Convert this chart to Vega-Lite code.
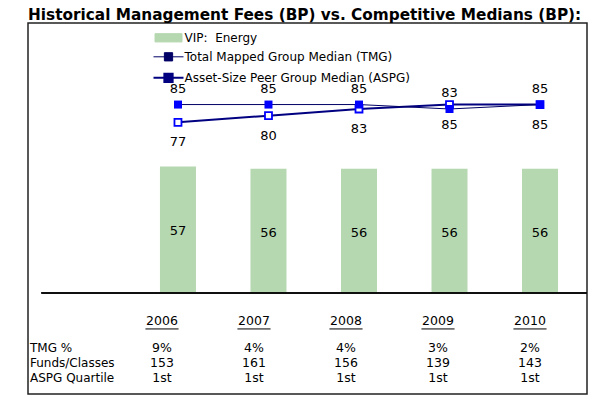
{
  "$schema": "https://vega.github.io/schema/vega-lite/v6.json",
  "width": 559,
  "height": 371,
  "autosize": "none",
  "padding": {"left": 28, "top": 23, "right": 19, "bottom": 13},
  "background": "white",
  "title": {
    "text": "Historical Management Fees (BP) vs. Competitive Medians (BP):",
    "anchor": "start",
    "font": "DejaVu Sans",
    "fontSize": 15.3,
    "fontWeight": "bold",
    "color": "black",
    "offset": 0
  },
  "config": {
    "view": {"stroke": "#222222", "strokeWidth": 1.5},
    "font": "DejaVu Sans",
    "text": {"font": "DejaVu Sans", "fontSize": 12, "color": "black"},
    "legend": {
      "orient": "none",
      "legendX": 134.5,
      "legendY": 8.8,
      "title": null,
      "padding": 0,
      "symbolSize": 225,
      "rowPadding": 5,
      "labelOffset": 10,
      "labelFont": "DejaVu Sans",
      "labelFontSize": 12,
      "labelColor": "black",
      "labelLimit": 400
    }
  },
  "datasets": {
    "fees": [
      {"year": "2006", "key": "VIP", "series": "VIP:\u00a0 Energy", "value": 57},
      {"year": "2007", "key": "VIP", "series": "VIP:\u00a0 Energy", "value": 56},
      {"year": "2008", "key": "VIP", "series": "VIP:\u00a0 Energy", "value": 56},
      {"year": "2009", "key": "VIP", "series": "VIP:\u00a0 Energy", "value": 56},
      {"year": "2010", "key": "VIP", "series": "VIP:\u00a0 Energy", "value": 56},
      {"year": "2006", "key": "TMG", "series": "Total Mapped Group Median (TMG)", "value": 85},
      {"year": "2007", "key": "TMG", "series": "Total Mapped Group Median (TMG)", "value": 85},
      {"year": "2008", "key": "TMG", "series": "Total Mapped Group Median (TMG)", "value": 85},
      {"year": "2009", "key": "TMG", "series": "Total Mapped Group Median (TMG)", "value": 83},
      {"year": "2010", "key": "TMG", "series": "Total Mapped Group Median (TMG)", "value": 85},
      {"year": "2006", "key": "ASPG", "series": "Asset-Size Peer Group Median (ASPG)", "value": 77},
      {"year": "2007", "key": "ASPG", "series": "Asset-Size Peer Group Median (ASPG)", "value": 80},
      {"year": "2008", "key": "ASPG", "series": "Asset-Size Peer Group Median (ASPG)", "value": 83},
      {"year": "2009", "key": "ASPG", "series": "Asset-Size Peer Group Median (ASPG)", "value": 85},
      {"year": "2010", "key": "ASPG", "series": "Asset-Size Peer Group Median (ASPG)", "value": 85}
    ],
    "table": [
      {"year": "2006", "row": "year", "text": "2006"},
      {"year": "2007", "row": "year", "text": "2007"},
      {"year": "2008", "row": "year", "text": "2008"},
      {"year": "2009", "row": "year", "text": "2009"},
      {"year": "2010", "row": "year", "text": "2010"},
      {"year": "2006", "row": "TMG %", "text": "9%"},
      {"year": "2007", "row": "TMG %", "text": "4%"},
      {"year": "2008", "row": "TMG %", "text": "4%"},
      {"year": "2009", "row": "TMG %", "text": "3%"},
      {"year": "2010", "row": "TMG %", "text": "2%"},
      {"year": "2006", "row": "Funds/Classes", "text": "153"},
      {"year": "2007", "row": "Funds/Classes", "text": "161"},
      {"year": "2008", "row": "Funds/Classes", "text": "156"},
      {"year": "2009", "row": "Funds/Classes", "text": "139"},
      {"year": "2010", "row": "Funds/Classes", "text": "143"},
      {"year": "2006", "row": "ASPG Quartile", "text": "1st"},
      {"year": "2007", "row": "ASPG Quartile", "text": "1st"},
      {"year": "2008", "row": "ASPG Quartile", "text": "1st"},
      {"year": "2009", "row": "ASPG Quartile", "text": "1st"},
      {"year": "2010", "row": "ASPG Quartile", "text": "1st"}
    ],
    "rowlabels": [
      {"row": "TMG %"},
      {"row": "Funds/Classes"},
      {"row": "ASPG Quartile"}
    ]
  },
  "resolve": {"scale": {"x": "independent", "y": "independent"}},
  "layer": [
    {
      "data": {"name": "fees"},
      "encoding": {
        "x": {
          "field": "year",
          "type": "nominal",
          "axis": null,
          "scale": {
            "type": "band",
            "domain": ["2006", "2007", "2008", "2009", "2010"],
            "paddingInner": 0.602,
            "paddingOuter": 0.889,
            "align": 0.82
          }
        },
        "y": {
          "field": "value",
          "type": "quantitative",
          "axis": null,
          "scale": {"domain": [-45.6, 121.8], "nice": false, "zero": false}
        }
      },
      "layer": [
        {
          "transform": [{"filter": "datum.key == 'VIP'"}],
          "mark": {"type": "bar", "opacity": 1},
          "encoding": {
            "color": {
              "field": "series",
              "type": "nominal",
              "scale": {
                "domain": ["VIP:\u00a0 Energy", "Total Mapped Group Median (TMG)", "Asset-Size Peer Group Median (ASPG)"],
                "range": ["#b6d8b0", "#000066", "#000080"]
              },
              "legend": {
                "encode": {
                  "symbols": {
                    "update": {
                      "shape": {"signal": "datum.index == 0 ? 'M-1.8,-0.55H1.8V0.55H-1.8Z' : 'M-2,0H2M-0.55,-0.55H0.55V0.55H-0.55Z'"},
                      "fill": {"signal": "datum.index == 0 ? '#b6d8b0' : (datum.index == 1 ? '#0000ff' : '#ffffff')"},
                      "stroke": {"signal": "datum.index == 0 ? '#b6d8b0' : '#000080'"},
                      "strokeWidth": {"signal": "datum.index == 2 ? 2 : 1"},
                      "opacity": {"value": 1},
                      "fillOpacity": {"value": 1}
                    }
                  }
                }
              }
            }
          }
        },
        {
          "transform": [{"filter": "datum.key == 'VIP'"}],
          "mark": {"type": "text", "dy": 64, "fontSize": 13},
          "encoding": {"text": {"field": "value", "type": "quantitative"}}
        },
        {
          "mark": {"type": "rule", "color": "#111111", "strokeWidth": 1.2},
          "encoding": {
            "y": {"datum": 0},
            "x": {"datum": "2006", "bandPosition": -3.28},
            "x2": {"value": "width"}
          }
        },
        {
          "transform": [{"filter": "datum.key == 'ASPG'"}],
          "mark": {"type": "line", "strokeWidth": 2},
          "encoding": {"color": {"field": "series", "type": "nominal", "legend": {
                "encode": {
                  "symbols": {
                    "update": {
                      "shape": {"signal": "datum.index == 0 ? 'M-1.8,-0.55H1.8V0.55H-1.8Z' : 'M-2,0H2M-0.55,-0.55H0.55V0.55H-0.55Z'"},
                      "fill": {"signal": "datum.index == 0 ? '#b6d8b0' : (datum.index == 1 ? '#0000ff' : '#ffffff')"},
                      "stroke": {"signal": "datum.index == 0 ? '#b6d8b0' : '#000080'"},
                      "strokeWidth": {"signal": "datum.index == 2 ? 2 : 1"},
                      "opacity": {"value": 1},
                      "fillOpacity": {"value": 1}
                    }
                  }
                }
              }}}
        },
        {
          "transform": [{"filter": "datum.key == 'TMG'"}],
          "mark": {"type": "line", "strokeWidth": 1},
          "encoding": {"color": {"field": "series", "type": "nominal", "legend": {
                "encode": {
                  "symbols": {
                    "update": {
                      "shape": {"signal": "datum.index == 0 ? 'M-1.8,-0.55H1.8V0.55H-1.8Z' : 'M-2,0H2M-0.55,-0.55H0.55V0.55H-0.55Z'"},
                      "fill": {"signal": "datum.index == 0 ? '#b6d8b0' : (datum.index == 1 ? '#0000ff' : '#ffffff')"},
                      "stroke": {"signal": "datum.index == 0 ? '#b6d8b0' : '#000080'"},
                      "strokeWidth": {"signal": "datum.index == 2 ? 2 : 1"},
                      "opacity": {"value": 1},
                      "fillOpacity": {"value": 1}
                    }
                  }
                }
              }}}
        },
        {
          "transform": [{"filter": "datum.key == 'ASPG'"}],
          "mark": {"type": "point", "shape": "square", "filled": false, "size": 49, "stroke": "#0000ff", "fill": "#ffffff", "fillOpacity": 1, "strokeWidth": 1.8, "opacity": 1}
        },
        {
          "transform": [{"filter": "datum.key == 'TMG'"}],
          "mark": {"type": "point", "shape": "square", "filled": true, "size": 64, "color": "#0000ff", "opacity": 1}
        },
        {
          "transform": [{"filter": "datum.key == 'TMG'"}],
          "mark": {"type": "text", "dy": -16, "fontSize": 13},
          "encoding": {"text": {"field": "value", "type": "quantitative"}}
        },
        {
          "transform": [{"filter": "datum.key == 'ASPG'"}],
          "mark": {"type": "text", "dy": 20, "fontSize": 13},
          "encoding": {"text": {"field": "value", "type": "quantitative"}}
        }
      ]
    },
    {
      "encoding": {
        "x": {
          "field": "year",
          "type": "nominal",
          "axis": null,
          "scale": {
            "type": "band",
            "domain": ["label", "2006", "2007", "2008", "2009", "2010"],
            "range": [-4, 548],
            "paddingInner": 0,
            "paddingOuter": 0
          }
        },
        "y": {
          "field": "row",
          "type": "nominal",
          "axis": null,
          "scale": {
            "type": "band",
            "domain": ["year", "gap", "TMG %", "Funds/Classes", "ASPG Quartile"],
            "range": [287.5, 362.5],
            "paddingInner": 0,
            "paddingOuter": 0
          }
        }
      },
      "layer": [
        {
          "data": {"name": "table"},
          "transform": [{"filter": "datum.row == 'year'"}],
          "mark": {"type": "text", "fontSize": 12.5, "baseline": "middle"},
          "encoding": {
            "y": {"field": "row", "type": "nominal", "bandPosition": 0.7},
            "text": {"field": "text", "type": "nominal"}
          }
        },
        {
          "data": {"name": "table"},
          "transform": [{"filter": "datum.row == 'year'"}],
          "mark": {"type": "rule", "color": "black", "strokeWidth": 1},
          "encoding": {
            "x": {"field": "year", "type": "nominal", "bandPosition": 0.32},
            "x2": {"field": "year", "bandPosition": 0.68},
            "y": {"datum": "gap", "bandPosition": 0.23}
          }
        },
        {
          "data": {"name": "table"},
          "transform": [{"filter": "datum.row != 'year'"}],
          "mark": {"type": "text", "fontSize": 12.5, "baseline": "middle"},
          "encoding": {"text": {"field": "text", "type": "nominal"}}
        },
        {
          "data": {"name": "rowlabels"},
          "mark": {"type": "text", "fontSize": 12, "baseline": "middle", "align": "left"},
          "encoding": {
            "x": {"datum": "label", "bandPosition": 0.065},
            "text": {"field": "row", "type": "nominal"}
          }
        }
      ]
    }
  ]
}
